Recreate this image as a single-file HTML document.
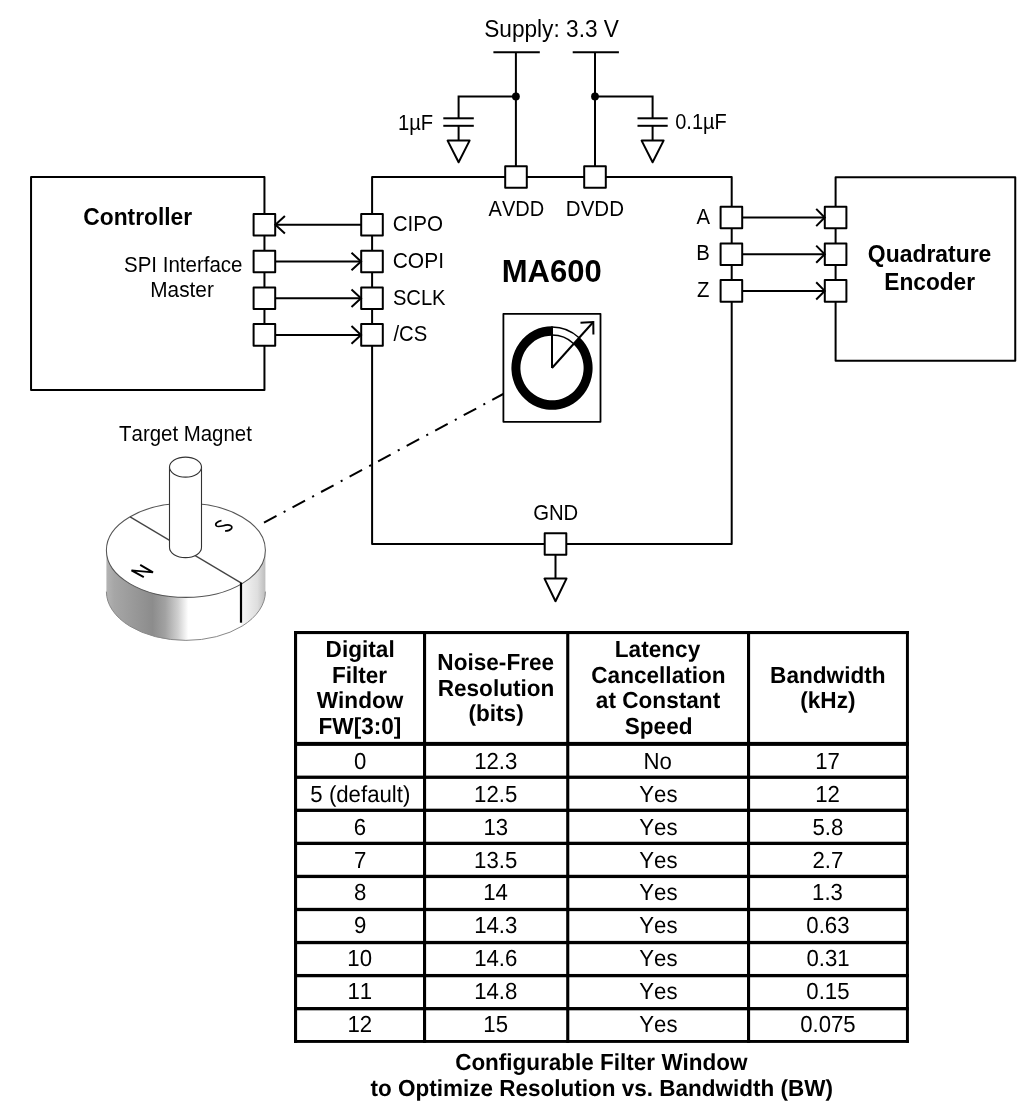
<!DOCTYPE html>
<html><head><meta charset="utf-8"><style>
html,body{margin:0;padding:0;background:#fff;}
svg{display:block;will-change:transform;}
text{font-family:"Liberation Sans",sans-serif;fill:#000;stroke:none;font-kerning:none;}
.g{text-rendering:geometricPrecision;}
</style></head><body>
<svg width="1024" height="1117" viewBox="0 0 1024 1117" stroke="#000" fill="none" stroke-linecap="butt" stroke-linejoin="miter">
<rect x="0" y="0" width="1024" height="1117" fill="#fff" stroke="none"/>
<g stroke="none">
</g>
<text transform="translate(484.17,37.00) scale(0.9605,1)" font-size="23.6" font-weight="normal">Supply: 3.3 V</text>
<line x1="493.4" y1="52.2" x2="539.8" y2="52.2" stroke-width="2"/>
<line x1="572.7" y1="52.2" x2="618.9" y2="52.2" stroke-width="2"/>
<line x1="515.9" y1="52.2" x2="515.9" y2="166" stroke-width="2"/>
<line x1="595.0" y1="52.2" x2="595.0" y2="166" stroke-width="2"/>
<circle cx="515.9" cy="96.4" r="3.9" fill="#000" stroke="none"/>
<circle cx="595.0" cy="96.4" r="3.9" fill="#000" stroke="none"/>
<polyline points="515.90,96.50 458.60,96.50 458.60,118.30" fill="none" stroke-width="2"/>
<line x1="443.3" y1="118.3" x2="473.8" y2="118.3" stroke-width="2"/>
<line x1="443.3" y1="125.8" x2="473.8" y2="125.8" stroke-width="2"/>
<line x1="458.6" y1="125.8" x2="458.6" y2="140.6" stroke-width="2"/>
<polygon points="447.60,140.60 469.60,140.60 458.60,162.30" fill="none" stroke-width="2" stroke-linejoin="round"/>
<text transform="translate(397.96,130.00) scale(0.9334,1)" font-size="21.6" font-weight="normal">1µF</text>
<polyline points="595.00,96.50 652.60,96.50 652.60,118.30" fill="none" stroke-width="2"/>
<line x1="637.5" y1="118.3" x2="667.7" y2="118.3" stroke-width="2"/>
<line x1="637.5" y1="125.8" x2="667.7" y2="125.8" stroke-width="2"/>
<line x1="652.6" y1="125.8" x2="652.6" y2="140.6" stroke-width="2"/>
<polygon points="641.60,140.60 663.60,140.60 652.60,162.30" fill="none" stroke-width="2" stroke-linejoin="round"/>
<text transform="translate(675.22,129.00) scale(0.9266,1)" font-size="21.6" font-weight="normal">0.1µF</text>
<rect x="372.1" y="177.1" width="359.6" height="366.8" fill="none" stroke-width="2" stroke-linejoin="round"/>
<rect x="505.20" y="166.20" width="21.6" height="21.6" fill="#fff" stroke-width="2" stroke-linejoin="round"/>
<rect x="584.20" y="166.20" width="21.6" height="21.6" fill="#fff" stroke-width="2" stroke-linejoin="round"/>
<text transform="translate(488.56,216.00) scale(0.9281,1)" font-size="21.6" font-weight="normal">AVDD</text>
<text transform="translate(565.82,216.00) scale(0.9504,1)" font-size="21.6" font-weight="normal">DVDD</text>
<text x="501.73" y="282.00" font-size="31.0" font-weight="bold">MA600</text>
<rect x="31.05" y="177" width="233.4" height="212.9" fill="none" stroke-width="2" stroke-linejoin="round"/>
<line x1="275.4" y1="224.8" x2="361" y2="224.8" stroke-width="2"/>
<rect x="253.60" y="214.00" width="21.6" height="21.6" fill="#fff" stroke-width="2" stroke-linejoin="round"/>
<rect x="361.20" y="214.00" width="21.6" height="21.6" fill="#fff" stroke-width="2" stroke-linejoin="round"/>
<polyline points="284.90,216.00 275.40,224.80 284.90,233.60" fill="none" stroke-width="2"/>
<text transform="translate(392.75,231.00) scale(0.9531,1)" font-size="21.6" font-weight="normal">CIPO</text>
<line x1="275.4" y1="261.5" x2="361" y2="261.5" stroke-width="2"/>
<rect x="253.60" y="250.70" width="21.6" height="21.6" fill="#fff" stroke-width="2" stroke-linejoin="round"/>
<rect x="361.20" y="250.70" width="21.6" height="21.6" fill="#fff" stroke-width="2" stroke-linejoin="round"/>
<polyline points="351.50,252.70 361.00,261.50 351.50,270.30" fill="none" stroke-width="2"/>
<text transform="translate(392.73,268.00) scale(0.9715,1)" font-size="21.6" font-weight="normal">COPI</text>
<line x1="275.4" y1="298.2" x2="361" y2="298.2" stroke-width="2"/>
<rect x="253.60" y="287.40" width="21.6" height="21.6" fill="#fff" stroke-width="2" stroke-linejoin="round"/>
<rect x="361.20" y="287.40" width="21.6" height="21.6" fill="#fff" stroke-width="2" stroke-linejoin="round"/>
<polyline points="351.50,289.40 361.00,298.20 351.50,307.00" fill="none" stroke-width="2"/>
<text transform="translate(392.88,305.00) scale(0.9347,1)" font-size="21.6" font-weight="normal">SCLK</text>
<line x1="275.4" y1="334.9" x2="361" y2="334.9" stroke-width="2"/>
<rect x="253.60" y="324.10" width="21.6" height="21.6" fill="#fff" stroke-width="2" stroke-linejoin="round"/>
<rect x="361.20" y="324.10" width="21.6" height="21.6" fill="#fff" stroke-width="2" stroke-linejoin="round"/>
<polyline points="351.50,326.10 361.00,334.90 351.50,343.70" fill="none" stroke-width="2"/>
<text transform="translate(393.40,341.00) scale(0.9396,1)" font-size="21.6" font-weight="normal">/CS</text>
<text transform="translate(83.26,225.00) scale(0.9665,1)" font-size="23.6" font-weight="bold">Controller</text>
<text transform="translate(123.97,272.00) scale(0.9502,1)" font-size="21.6" font-weight="normal">SPI Interface</text>
<text transform="translate(150.29,297.00) scale(0.9627,1)" font-size="21.6" font-weight="normal">Master</text>
<rect x="835.6" y="177.2" width="179.65" height="183.5" fill="none" stroke-width="2" stroke-linejoin="round"/>
<line x1="742.4" y1="217.5" x2="824.7" y2="217.5" stroke-width="2"/>
<rect x="720.60" y="206.70" width="21.6" height="21.6" fill="#fff" stroke-width="2" stroke-linejoin="round"/>
<rect x="824.80" y="206.70" width="21.6" height="21.6" fill="#fff" stroke-width="2" stroke-linejoin="round"/>
<polyline points="816.20,208.90 824.70,217.50 816.20,226.10" fill="none" stroke-width="2"/>
<line x1="742.4" y1="254.2" x2="824.7" y2="254.2" stroke-width="2"/>
<rect x="720.60" y="243.40" width="21.6" height="21.6" fill="#fff" stroke-width="2" stroke-linejoin="round"/>
<rect x="824.80" y="243.40" width="21.6" height="21.6" fill="#fff" stroke-width="2" stroke-linejoin="round"/>
<polyline points="816.20,245.60 824.70,254.20 816.20,262.80" fill="none" stroke-width="2"/>
<line x1="742.4" y1="290.9" x2="824.7" y2="290.9" stroke-width="2"/>
<rect x="720.60" y="280.10" width="21.6" height="21.6" fill="#fff" stroke-width="2" stroke-linejoin="round"/>
<rect x="824.80" y="280.10" width="21.6" height="21.6" fill="#fff" stroke-width="2" stroke-linejoin="round"/>
<polyline points="816.20,282.30 824.70,290.90 816.20,299.50" fill="none" stroke-width="2"/>
<text transform="translate(696.43,224.00) scale(0.9400,1)" font-size="21.6" font-weight="normal">A</text>
<text transform="translate(696.13,260.00) scale(0.9400,1)" font-size="21.6" font-weight="normal">B</text>
<text transform="translate(696.99,297.00) scale(0.9400,1)" font-size="21.6" font-weight="normal">Z</text>
<text transform="translate(867.86,262.00) scale(0.9710,1)" font-size="23.6" font-weight="bold">Quadrature</text>
<text transform="translate(884.28,290.00) scale(0.9623,1)" font-size="23.6" font-weight="bold">Encoder</text>
<rect x="544.70" y="533.20" width="21.6" height="21.6" fill="#fff" stroke-width="2" stroke-linejoin="round"/>
<line x1="555.5" y1="555" x2="555.5" y2="578.6" stroke-width="2"/>
<polygon points="544.50,578.60 566.50,578.60 555.50,601.20" fill="none" stroke-width="2" stroke-linejoin="round"/>
<text transform="translate(533.18,520.00) scale(0.9394,1)" font-size="21.6" font-weight="normal">GND</text>
<rect x="503.4" y="313.8" width="97.1" height="108.0" fill="none" stroke-width="1.8" stroke-linejoin="round"/>
<path d="M579.56,337.30 A40.6,41.8 0 1 1 552.00,326.20 L552.00,335.70 A31.6,32.3 0 1 0 573.37,344.20 Z" fill="#000" stroke="none"/>
<path d="M552.00,326.90 A40.0,41.1 0 0 1 579.12,337.79 M552.00,335.10 A32.3,32.9 0 0 1 573.80,343.72" fill="none" stroke-width="1.5"/>
<line x1="552.0" y1="368.0" x2="552.0" y2="326.5" stroke-width="2"/>
<line x1="552.0" y1="368.0" x2="593.3" y2="322.0" stroke-width="2"/>
<polyline points="580.50,322.80 593.30,322.00 593.40,334.40" fill="none" stroke-width="2"/>
<line x1="264" y1="522.7" x2="503.2" y2="394" stroke-width="2" stroke-dasharray="14.2 8.1 2.1 8"/>
<defs><linearGradient id="side" x1="106.4" y1="0" x2="265.4" y2="0" gradientUnits="userSpaceOnUse"><stop offset="0" stop-color="#b4b4b4"/><stop offset="0.05" stop-color="#a6a6a6"/><stop offset="0.29" stop-color="#8c8c8c"/><stop offset="0.37" stop-color="#a2a2a2"/><stop offset="0.45" stop-color="#cfcfcf"/><stop offset="0.515" stop-color="#ffffff"/><stop offset="0.846" stop-color="#ffffff"/><stop offset="0.85" stop-color="#f6f6f6"/><stop offset="0.95" stop-color="#dedede"/><stop offset="1" stop-color="#bdbdbd"/></linearGradient></defs>
<path d="M106.4,550.3 L106.4,591.6 A79.5,48.8 0 0 0 265.4,591.6 L265.4,550.3 A79.5,47.1 0 0 1 106.4,550.3 Z" fill="url(#side)" stroke="none"/>
<path d="M106.4,591.6 A79.5,48.8 0 0 0 265.4,591.6" fill="none" stroke="#888" stroke-width="1"/>
<ellipse cx="185.9" cy="550.3" rx="79.5" ry="47.1" fill="#fff" stroke="#555" stroke-width="1.05"/>
<line x1="130.1" y1="516.9" x2="241" y2="582.9" stroke="#444" stroke-width="1.3"/>
<line x1="241" y1="582.5" x2="241" y2="622.7" stroke-width="2.2"/>
<path d="M169.5,467.1 L169.5,547.6 A16.0,10.0 0 0 0 201.5,547.6 L201.5,467.1 Z" fill="#fff" stroke="#333" stroke-width="1.1"/>
<ellipse cx="185.5" cy="467.1" rx="16.0" ry="10.0" fill="#fff" stroke="#333" stroke-width="1.1"/>
<path d="M140.2,564.9 L153,572.4 L131.5,570.4 L143.8,577.2" fill="none" stroke-width="1.9" stroke-linejoin="miter"/>
<path d="M221.5,520.5 C217,521.5 214.5,524 216.5,526 C218,527.5 222,526 225.6,525.2 C229,524.5 233,525.5 231.5,528.5 C230,530.5 227,531 225,531" fill="none" stroke-width="1.7"/>
<text transform="translate(119.04,441.00) scale(0.9461,1)" font-size="21.6" font-weight="normal">Target Magnet</text>
<rect x="294.00" y="631.00" width="614.90" height="3.10" fill="#000" stroke="none"/>
<rect x="294.00" y="1040.00" width="614.90" height="2.90" fill="#000" stroke="none"/>
<rect x="294.00" y="631.00" width="3.10" height="411.90" fill="#000" stroke="none"/>
<rect x="905.95" y="631.00" width="2.95" height="411.90" fill="#000" stroke="none"/>
<rect x="423.00" y="631.00" width="3.10" height="411.90" fill="#000" stroke="none"/>
<rect x="566.20" y="631.00" width="3.10" height="411.90" fill="#000" stroke="none"/>
<rect x="747.00" y="631.00" width="3.10" height="411.90" fill="#000" stroke="none"/>
<rect x="294.00" y="741.90" width="614.90" height="4.00" fill="#000" stroke="none"/>
<rect x="294.00" y="775.60" width="614.90" height="3.30" fill="#000" stroke="none"/>
<rect x="294.00" y="808.66" width="614.90" height="3.30" fill="#000" stroke="none"/>
<rect x="294.00" y="841.72" width="614.90" height="3.30" fill="#000" stroke="none"/>
<rect x="294.00" y="874.78" width="614.90" height="3.30" fill="#000" stroke="none"/>
<rect x="294.00" y="907.84" width="614.90" height="3.30" fill="#000" stroke="none"/>
<rect x="294.00" y="940.90" width="614.90" height="3.30" fill="#000" stroke="none"/>
<rect x="294.00" y="973.96" width="614.90" height="3.30" fill="#000" stroke="none"/>
<rect x="294.00" y="1007.02" width="614.90" height="3.30" fill="#000" stroke="none"/>
<text transform="translate(325.62,657.00) scale(0.9720,1)" font-size="23.25" font-weight="bold" class="g">Digital</text>
<text transform="translate(331.89,683.00) scale(0.9720,1)" font-size="23.25" font-weight="bold" class="g">Filter</text>
<text transform="translate(316.76,708.00) scale(0.9720,1)" font-size="23.25" font-weight="bold" class="g">Window</text>
<text transform="translate(318.55,734.00) scale(0.9720,1)" font-size="23.25" font-weight="bold" class="g">FW[3:0]</text>
<text transform="translate(437.33,670.00) scale(0.9720,1)" font-size="23.25" font-weight="bold" class="g">Noise-Free</text>
<text transform="translate(437.66,696.00) scale(0.9720,1)" font-size="23.25" font-weight="bold" class="g">Resolution</text>
<text transform="translate(468.48,721.00) scale(0.9720,1)" font-size="23.25" font-weight="bold" class="g">(bits)</text>
<text transform="translate(614.80,657.00) scale(0.9720,1)" font-size="23.25" font-weight="bold" class="g">Latency</text>
<text transform="translate(591.25,683.00) scale(0.9720,1)" font-size="23.25" font-weight="bold" class="g">Cancellation</text>
<text transform="translate(595.86,708.00) scale(0.9720,1)" font-size="23.25" font-weight="bold" class="g">at Constant</text>
<text transform="translate(624.71,734.00) scale(0.9720,1)" font-size="23.25" font-weight="bold" class="g">Speed</text>
<text transform="translate(770.10,683.00) scale(0.9720,1)" font-size="23.25" font-weight="bold" class="g">Bandwidth</text>
<text transform="translate(800.28,708.00) scale(0.9720,1)" font-size="23.25" font-weight="bold" class="g">(kHz)</text>
<text transform="translate(353.93,769.00) scale(0.9548,1)" font-size="23.25" font-weight="normal" class="g">0</text>
<text transform="translate(474.14,769.00) scale(0.9548,1)" font-size="23.25" font-weight="normal" class="g">12.3</text>
<text transform="translate(643.57,769.00) scale(0.9548,1)" font-size="23.25" font-weight="normal" class="g">No</text>
<text transform="translate(815.27,769.00) scale(0.9548,1)" font-size="23.25" font-weight="normal" class="g">17</text>
<text transform="translate(310.37,802.00) scale(0.9548,1)" font-size="23.25" font-weight="normal" class="g">5 (default)</text>
<text transform="translate(474.12,802.00) scale(0.9548,1)" font-size="23.25" font-weight="normal" class="g">12.5</text>
<text transform="translate(639.23,802.00) scale(0.9548,1)" font-size="23.25" font-weight="normal" class="g">Yes</text>
<text transform="translate(815.27,802.00) scale(0.9548,1)" font-size="23.25" font-weight="normal" class="g">12</text>
<text transform="translate(353.85,835.00) scale(0.9548,1)" font-size="23.25" font-weight="normal" class="g">6</text>
<text transform="translate(483.40,835.00) scale(0.9548,1)" font-size="23.25" font-weight="normal" class="g">13</text>
<text transform="translate(639.23,835.00) scale(0.9548,1)" font-size="23.25" font-weight="normal" class="g">Yes</text>
<text transform="translate(812.51,835.00) scale(0.9548,1)" font-size="23.25" font-weight="normal" class="g">5.8</text>
<text transform="translate(353.92,868.00) scale(0.9548,1)" font-size="23.25" font-weight="normal" class="g">7</text>
<text transform="translate(474.12,868.00) scale(0.9548,1)" font-size="23.25" font-weight="normal" class="g">13.5</text>
<text transform="translate(639.23,868.00) scale(0.9548,1)" font-size="23.25" font-weight="normal" class="g">Yes</text>
<text transform="translate(812.47,868.00) scale(0.9548,1)" font-size="23.25" font-weight="normal" class="g">2.7</text>
<text transform="translate(353.93,900.00) scale(0.9548,1)" font-size="23.25" font-weight="normal" class="g">8</text>
<text transform="translate(483.23,900.00) scale(0.9548,1)" font-size="23.25" font-weight="normal" class="g">14</text>
<text transform="translate(639.23,900.00) scale(0.9548,1)" font-size="23.25" font-weight="normal" class="g">Yes</text>
<text transform="translate(812.11,900.00) scale(0.9548,1)" font-size="23.25" font-weight="normal" class="g">1.3</text>
<text transform="translate(353.93,933.00) scale(0.9548,1)" font-size="23.25" font-weight="normal" class="g">9</text>
<text transform="translate(474.14,933.00) scale(0.9548,1)" font-size="23.25" font-weight="normal" class="g">14.3</text>
<text transform="translate(639.23,933.00) scale(0.9548,1)" font-size="23.25" font-weight="normal" class="g">Yes</text>
<text transform="translate(806.35,933.00) scale(0.9548,1)" font-size="23.25" font-weight="normal" class="g">0.63</text>
<text transform="translate(347.34,966.00) scale(0.9548,1)" font-size="23.25" font-weight="normal" class="g">10</text>
<text transform="translate(474.14,966.00) scale(0.9548,1)" font-size="23.25" font-weight="normal" class="g">14.6</text>
<text transform="translate(639.23,966.00) scale(0.9548,1)" font-size="23.25" font-weight="normal" class="g">Yes</text>
<text transform="translate(806.40,966.00) scale(0.9548,1)" font-size="23.25" font-weight="normal" class="g">0.31</text>
<text transform="translate(347.45,999.00) scale(0.9548,1)" font-size="23.25" font-weight="normal" class="g">11</text>
<text transform="translate(474.13,999.00) scale(0.9548,1)" font-size="23.25" font-weight="normal" class="g">14.8</text>
<text transform="translate(639.23,999.00) scale(0.9548,1)" font-size="23.25" font-weight="normal" class="g">Yes</text>
<text transform="translate(806.33,999.00) scale(0.9548,1)" font-size="23.25" font-weight="normal" class="g">0.15</text>
<text transform="translate(347.47,1032.00) scale(0.9548,1)" font-size="23.25" font-weight="normal" class="g">12</text>
<text transform="translate(483.37,1032.00) scale(0.9548,1)" font-size="23.25" font-weight="normal" class="g">15</text>
<text transform="translate(639.23,1032.00) scale(0.9548,1)" font-size="23.25" font-weight="normal" class="g">Yes</text>
<text transform="translate(800.16,1032.00) scale(0.9548,1)" font-size="23.25" font-weight="normal" class="g">0.075</text>
<text transform="translate(455.13,1070.00) scale(0.9677,1)" font-size="23.25" font-weight="bold" class="g">Configurable Filter Window</text>
<text transform="translate(370.43,1096.00) scale(0.9677,1)" font-size="23.25" font-weight="bold" class="g">to Optimize Resolution vs. Bandwidth (BW)</text>

</svg>
</body></html>
